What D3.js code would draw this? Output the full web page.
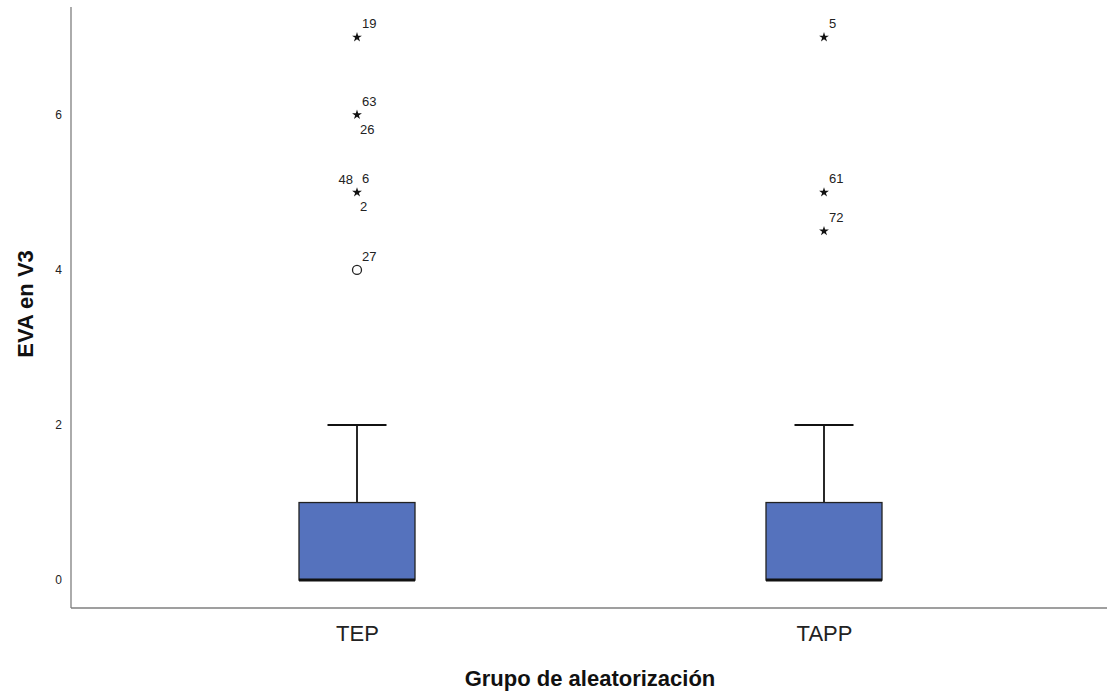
<!DOCTYPE html>
<html lang="es">
<head>
<meta charset="UTF-8">
<title>EVA en V3</title>
<script src="https://d3js.org/d3.v7.min.js"></script>
<style>
  body { margin: 0; background: #fff; }
  svg text { font-family: "Liberation Sans", Arial, sans-serif; }
</style>
</head>
<body>
<svg id="chart" width="1107" height="695"></svg>
<script>
// box plot summary per group
const groups = ["TEP", "TAPP"];
const whiskerLow = [0, 0];
const q1 = [0, 0];
const median = [0, 0];
const q3 = [1, 1];
const whiskerHigh = [2, 2];

// outliers / extremes (case numbers as labels)
const outGroup = ["TEP", "TEP", "TEP", "TEP", "TEP", "TEP", "TEP", "TAPP", "TAPP", "TAPP"];
const outValue = [7, 6, 6, 5, 5, 5, 4, 7, 5, 4.5];
const outId = ["19", "63", "26", "6", "2", "48", "27", "5", "61", "72"];
const outKind = ["extreme", "extreme", "extreme", "extreme", "extreme", "extreme", "outlier", "extreme", "extreme", "extreme"];

const yTicks = [0, 2, 4, 6];

const svg = d3.select("#chart");

const x = d3.scalePoint().domain(groups).range([357, 824]);
const y = d3.scaleLinear().domain([-0.36, 7.39]).range([608, 7]);
const boxW = 116, capW = 59;

// axes lines
svg.append("line")
  .attr("x1", 71).attr("x2", 71)
  .attr("y1", y(7.39)).attr("y2", y(-0.36))
  .attr("stroke", "#7f7f7f").attr("stroke-width", 1.3);
svg.append("line")
  .attr("x1", 71).attr("x2", 1107)
  .attr("y1", y(-0.36)).attr("y2", y(-0.36))
  .attr("stroke", "#7f7f7f").attr("stroke-width", 1.3);

// y tick labels (no tick marks)
const yAxis = d3.axisLeft(y).tickValues(yTicks).tickSize(0).tickPadding(0);
const gy = svg.append("g").attr("transform", "translate(62,0)").call(yAxis);
gy.select(".domain").remove();
gy.selectAll("text").attr("font-size", 12).attr("fill", "#222")
  .style("font-family", "'Liberation Sans', Arial, sans-serif");

// x category labels
const xAxis = d3.axisBottom(x).tickSize(0).tickPadding(0);
const gx = svg.append("g").attr("transform", "translate(0,625)").call(xAxis);
gx.select(".domain").remove();
gx.selectAll("text").attr("font-size", 22).attr("fill", "#222")
  .style("font-family", "'Liberation Sans', Arial, sans-serif");

// titles
svg.append("text")
  .attr("x", 590).attr("y", 686)
  .attr("text-anchor", "middle")
  .attr("font-size", 22).attr("font-weight", "bold").attr("fill", "#111")
  .text("Grupo de aleatorización");
svg.append("text")
  .attr("transform", "translate(33,304) rotate(-90)")
  .attr("text-anchor", "middle")
  .attr("font-size", 22).attr("font-weight", "bold").attr("fill", "#111")
  .text("EVA en V3");

// boxes
groups.forEach((g, i) => {
  const cx = x(g);
  // whisker line
  svg.append("line")
    .attr("x1", cx).attr("x2", cx)
    .attr("y1", y(q3[i])).attr("y2", y(whiskerHigh[i]))
    .attr("stroke", "#111").attr("stroke-width", 1.8);
  svg.append("line")
    .attr("x1", cx - capW / 2).attr("x2", cx + capW / 2)
    .attr("y1", y(whiskerHigh[i])).attr("y2", y(whiskerHigh[i]))
    .attr("stroke", "#111").attr("stroke-width", 1.8);
  if (whiskerLow[i] < q1[i]) {
    svg.append("line")
      .attr("x1", cx).attr("x2", cx)
      .attr("y1", y(q1[i])).attr("y2", y(whiskerLow[i]))
      .attr("stroke", "#111").attr("stroke-width", 1.8);
  }
  svg.append("rect")
    .attr("x", cx - boxW / 2).attr("width", boxW)
    .attr("y", y(q3[i])).attr("height", y(q1[i]) - y(q3[i]))
    .attr("fill", "#5572bd").attr("stroke", "#222").attr("stroke-width", 1.3);
  svg.append("line")
    .attr("x1", cx - boxW / 2).attr("x2", cx + boxW / 2)
    .attr("y1", y(median[i])).attr("y2", y(median[i]))
    .attr("stroke", "#111").attr("stroke-width", 3);
});

// outliers
const star = d3.symbol().type(d3.symbolStar).size(30);
const seen = {};
outValue.forEach((v, i) => {
  const g = outGroup[i];
  const cx = x(g), cy = y(v);
  const key = g + "|" + v;
  const k = seen[key] || 0;
  seen[key] = k + 1;
  if (k === 0) {
    if (outKind[i] === "extreme") {
      svg.append("path").attr("d", star)
        .attr("transform", `translate(${cx},${cy})`).attr("fill", "#111");
    } else {
      svg.append("circle").attr("cx", cx).attr("cy", cy).attr("r", 4.5)
        .attr("fill", "#fff").attr("stroke", "#222").attr("stroke-width", 1.3);
    }
  }
  const lab = svg.append("text").attr("font-size", 13).attr("fill", "#222").text(outId[i]);
  if (k === 0) lab.attr("x", cx + 5).attr("y", cy - 9);
  else if (k === 1) lab.attr("x", cx + 3).attr("y", cy + 19);
  else lab.attr("x", cx - 4).attr("y", cy - 8).attr("text-anchor", "end");
});
</script>
</body>
</html>
